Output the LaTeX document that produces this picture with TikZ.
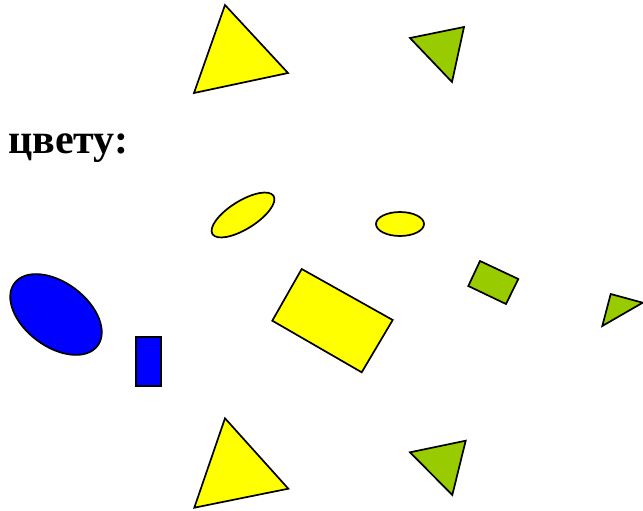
\documentclass[tikz,border=0pt]{standalone}
\usepackage{fontspec}
\setmainfont{Liberation Serif}
\usetikzlibrary{positioning}
\definecolor{figyellow}{HTML}{FFFF00}
\definecolor{figgreen}{HTML}{99CC00}
\definecolor{figblue}{HTML}{0000FF}
\tikzset{
  figure/.style={draw=black,line width=1.7pt,line join=miter},
  yellowfig/.style={figure,fill=figyellow},
  greenfig/.style={figure,fill=figgreen},
  bluefig/.style={figure,fill=figblue}
}

\begin{document}
\begin{tikzpicture}[x=1pt,y=1pt,
          caption/.style={anchor=base west,inner sep=0pt,font=\fontsize{42}{42}\selectfont\bfseries}]
        \useasboundingbox (0,0) rectangle (643,-511);
        \node[caption] (title) at (8,-153) {цвету:};
        % top row
        \draw[yellowfig] (225,-5) -- (288,-73) -- (194,-93) -- cycle;
        \draw[greenfig] (410,-38) -- (464,-27) -- (452,-82) -- cycle;
        % middle
        \draw[yellowfig,rotate around={32:(243,-215)}] (243,-215) ellipse [x radius=36,y radius=14];
        \draw[yellowfig] (400,-224) ellipse [x radius=24,y radius=12];
        \draw[bluefig,rotate around={-37:(56,-314.5)}] (56,-314.5) ellipse [x radius=52,y radius=32];
        \draw[bluefig] (136,-337) rectangle (161,-386);
        \draw[yellowfig] (301.7,-269) -- (392.7,-320) -- (361.7,-372.3) -- (272.3,-320.7) -- cycle;
        \draw[greenfig] (480,-261) -- (518.3,-279) -- (506,-304) -- (468.3,-286) -- cycle;
        \draw[greenfig] (610.7,-294) -- (642.7,-302.7) -- (602.3,-326) -- cycle;
        % bottom row
        \draw[yellowfig] (225,-418.3) -- (288.3,-488.7) -- (194.3,-507.7) -- cycle;
        \draw[greenfig] (410,-452.3) -- (465.7,-440.7) -- (452.3,-495) -- cycle;
      \end{tikzpicture}
\end{document}
